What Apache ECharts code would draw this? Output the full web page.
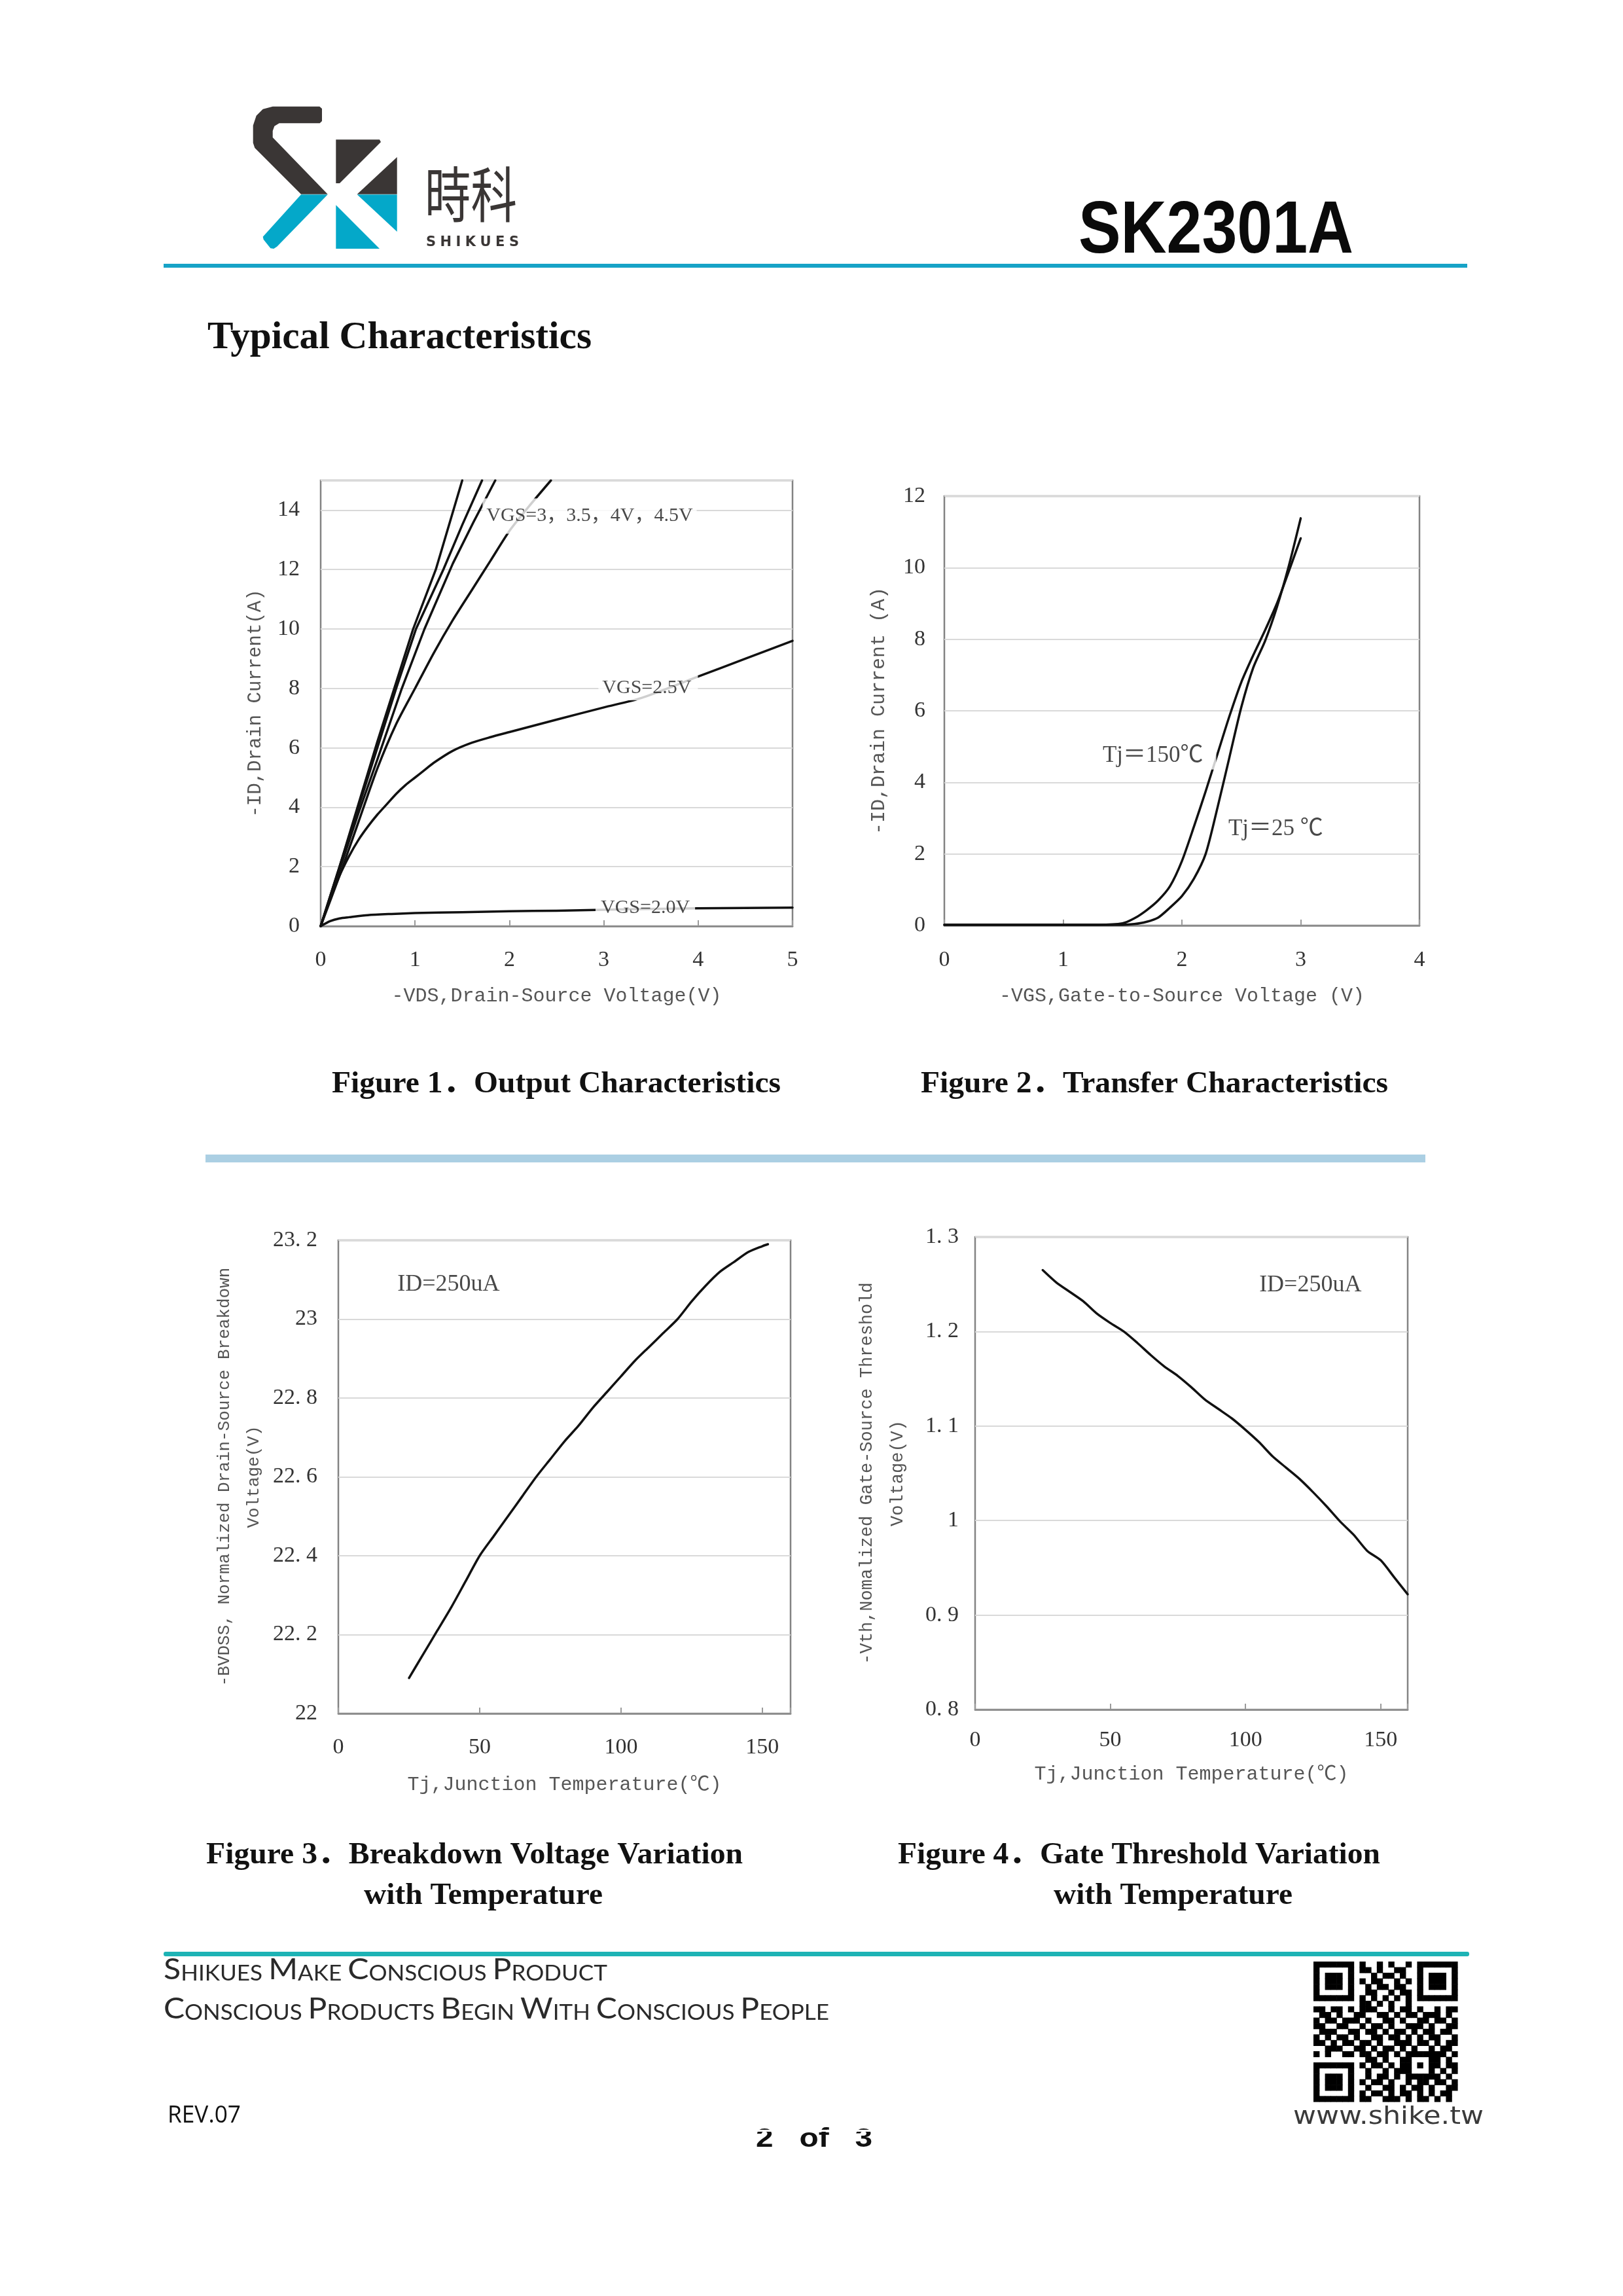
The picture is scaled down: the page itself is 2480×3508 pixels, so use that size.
<!DOCTYPE html>
<html><head><meta charset="utf-8">
<script src="https://cdn.jsdelivr.net/npm/echarts@6/dist/echarts.min.js"></script>
<style>html,body{margin:0;padding:0;background:#fff}#c{width:2480px;height:3508px}</style>
</head><body><div id="c"></div>
<script>
// ---------------- DATA ----------------
// Figure 1: Output characteristics  [-VDS (V), -ID (A)]
const fig1_vgs45 = [[0,0],[0.2,2.0],[0.4,4.1],[0.6,6.2],[0.78,8.0],[0.98,10.0],[1.22,12.0],[1.5,15.0]];
const fig1_vgs40 = [[0,0],[0.2,2.0],[0.4,4.0],[0.6,6.0],[0.8,8.0],[1.01,10.0],[1.3,12.0],[1.5,13.5],[1.71,15.0]];
const fig1_vgs35 = [[0,0],[0.2,1.9],[0.4,3.8],[0.6,5.6],[0.86,8.0],[1.1,10.0],[1.4,12.2],[1.62,13.6],[1.85,15.0]];
const fig1_vgs30 = [[0,0],[0.2,1.7],[0.4,3.5],[0.6,5.3],[0.8,6.8],[1.0,8.0],[1.2,9.2],[1.4,10.3],[1.6,11.3],[1.8,12.3],[2.0,13.3],[2.2,14.1],[2.44,15.0]];
const fig1_vgs25 = [[0,0],[0.1,0.9],[0.2,1.7],[0.3,2.35],[0.4,2.9],[0.5,3.35],[0.6,3.75],[0.7,4.1],[0.8,4.45],[0.9,4.75],[1.0,5.0],[1.1,5.25],[1.2,5.5],[1.4,5.9],[1.6,6.17],[1.8,6.36],[2.0,6.53],[2.5,6.95],[3.0,7.36],[3.4,7.68],[4.0,8.4],[4.5,9.0],[5.0,9.6]];
const fig1_vgs20 = [[0,0],[0.1,0.17],[0.2,0.26],[0.3,0.3],[0.5,0.37],[0.75,0.41],[1.0,0.44],[1.5,0.47],[2.0,0.5],[2.5,0.52],[3.0,0.55],[3.5,0.58],[4.0,0.6],[4.5,0.61],[5.0,0.62]];
const fig1_notes = [
  {text:'VGS=3，3.5，4V，4.5V', x:2.85, y:13.8},
  {text:'VGS=2.5V', x:3.47, y:8.02},
  {text:'VGS=2.0V', x:3.44, y:0.62}
];
// Figure 2: Transfer characteristics [-VGS (V), -ID (A)]
const fig2_tj150 = [[0,0.02],[1.3,0.02],[1.5,0.06],[1.6,0.2],[1.7,0.42],[1.8,0.7],[1.9,1.1],[2.0,1.8],[2.1,2.75],[2.2,3.75],[2.3,4.8],[2.4,5.85],[2.5,6.8],[2.6,7.55],[2.7,8.25],[2.8,9.0],[2.9,9.9],[3.0,10.82]];
const fig2_tj25 = [[0,0.02],[1.5,0.02],[1.6,0.04],[1.7,0.1],[1.8,0.22],[1.9,0.5],[2.0,0.82],[2.1,1.3],[2.2,2.0],[2.3,3.3],[2.4,4.7],[2.5,6.1],[2.6,7.2],[2.7,7.95],[2.8,8.9],[2.9,10.05],[3.0,11.38]];
const fig2_notes = [
  {text:'Tj＝150℃', x:1.80, y:4.75},
  {text:'Tj＝25 ℃', x:2.79, y:2.69}
];
// Figure 3: Breakdown voltage vs temperature
const fig3_tj = [25,30,35,40,45,50,55,60,65,70,75,80,85,90,95,100,105,110,115,120,125,130,135,140,145,150,152];
const fig3_bv = [22.09,22.15,22.21,22.27,22.335,22.40,22.45,22.50,22.55,22.60,22.645,22.69,22.73,22.775,22.815,22.855,22.895,22.93,22.965,23.0,23.045,23.085,23.12,23.145,23.17,23.185,23.19];
const fig3_notes = [{text:'ID=250uA', x:39, y:23.088}];
// Figure 4: Gate threshold vs temperature
const fig4_tj = [25,30,35,40,45,50,55,60,65,70,75,80,85,90,95,100,105,110,115,120,125,130,135,140,145,150,155,160];
const fig4_vth = [1.265,1.252,1.242,1.232,1.219,1.209,1.200,1.188,1.175,1.163,1.153,1.141,1.128,1.118,1.108,1.096,1.083,1.068,1.056,1.044,1.030,1.015,0.999,0.985,0.968,0.958,0.940,0.922];
const fig4_notes = [{text:'ID=250uA', x:124, y:1.249}];

// ---------------- STYLE / LAYOUT ----------------
const SERIF = "'Liberation Serif','Times New Roman','Noto Sans CJK SC',serif";
const MONO = "'Liberation Mono','Noto Sans CJK SC',monospace";
const INK = '#111';
const mc = document.createElement('canvas').getContext('2d');
function tw(t, f){ mc.font = f; return mc.measureText(t).width; }
function fitText(text, font, x, y, w, fill, va){
  return {type:'text', x:x, y:y, scaleX: w / tw(text, font), z:100,
    style:{text:text, x:0, y:0, font:font, fill:fill||INK, align:'left', verticalAlign:va||'middle', textAlign:'left', textVerticalAlign:va||'middle'}};
}
function spaced(str, x0, total, y, font, fill){
  const ch = str.split(''); const ws = ch.map(c=>tw(c,font));
  const gap = (total - ws.reduce((a,b)=>a+b,0))/(ch.length-1);
  let x = x0; const out=[];
  ch.forEach((c,i)=>{ out.push({type:'text', x:x, y:y, z:100, style:{text:c, x:0,y:0, font:font, fill:fill, align:'left', verticalAlign:'middle'}}); x += ws[i]+gap; });
  return out;
}
function smallCaps(str, x, top, target, big, small, fam, fill){
  const fb = big+'px '+fam, fs = small+'px '+fam;
  let rich='', w=0;
  str.split(' ').forEach((wd,i)=>{
    if(i>0){ rich += '{s| }'; w += tw(' ',fs); }
    const a = wd[0], b = wd.slice(1).toUpperCase();
    rich += '{b|'+a+'}{s|'+b+'}'; w += tw(a,fb)+tw(b,fs);
  });
  return {type:'text', x:x, y:top, scaleX: target/w, z:100,
    style:{text:rich, x:0, y:0, align:'left', verticalAlign:'top', fill:fill,
      rich:{ b:{fontSize:big, fontFamily:fam, fill:fill, verticalAlign:'bottom'},
             s:{fontSize:small, fontFamily:fam, fill:fill, verticalAlign:'bottom'} }}};
}

const grids = [
  {left:490, top:734, width:721, height:681},
  {left:1443, top:758, width:726, height:656},
  {left:517, top:1895, width:691, height:723},
  {left:1490, top:1890, width:661, height:722}
].map(g=>Object.assign({show:true, borderColor:'#838383', borderWidth:2.5, backgroundColor:'#fff', containLabel:false, outerBoundsMode:'none'}, g));

const dotFmt = v => { const s = String(+(+v).toFixed(1)); return s.replace('.', '. '); };
function xAx(gi, min, max, interval, name, gap, margin, hideVal){
  return {type:'value', gridIndex:gi, min:min, max:max, interval:interval, name:name, nameLocation:'middle', nameGap:gap,
    nameTextStyle:{fontFamily:MONO, fontSize:30, color:'#555'},
    axisLine:{show:true, lineStyle:{color:'#838383', width:2.5}},
    axisTick:{show:true, inside:true, length:9, lineStyle:{color:'#9a9a9a', width:2}},
    splitLine:{show:false},
    axisLabel:{margin:margin, fontFamily:SERIF, fontSize:34, color:'#333', interval:0,
      formatter: v => (hideVal!==undefined && Math.abs(v-hideVal)<1e-9) ? '' : String(+(+v).toFixed(2))}};
}
function yAx(gi, min, max, interval, name, gap, margin, nameStyle, fmt, hideVal){
  return {type:'value', gridIndex:gi, min:min, max:max, interval:interval, name:name, nameLocation:'middle', nameGap:gap, nameRotate:90,
    nameTextStyle:nameStyle,
    axisLine:{show:false}, axisTick:{show:false},
    splitLine:{show:true, lineStyle:{color:'#d9d9d9', width:2}},
    axisLabel:{margin:margin, fontFamily:SERIF, fontSize:34, color:'#333', interval:0,
      formatter: v => (hideVal!==undefined && Math.abs(v-hideVal)<1e-9) ? '' : fmt(v)}};
}
const plainFmt = v => String(+(+v).toFixed(2));

function lineS(gi, data, sm){
  return {type:'line', xAxisIndex:gi, yAxisIndex:gi, data:data, showSymbol:false, symbol:'none', smooth:sm,
    clip:true, z:2, lineStyle:{color:'#111', width:3.5, join:'round', cap:'round'}, silent:true};
}
function notesS(gi, notes, fontSize, pads){
  return {type:'scatter', xAxisIndex:gi, yAxisIndex:gi, symbolSize:1, z:5, silent:true,
    itemStyle:{color:'rgba(0,0,0,0)'},
    data: notes.map((n,i)=>({name:n.text, value:[n.x,n.y], label:{padding:pads[i]}})),
    label:{show:true, position:'inside', formatter:'{b}', color:'#1a1a1a', fontFamily:SERIF, fontSize:fontSize, backgroundColor:'#fff'}};
}

// ---------------- GRAPHIC (page furniture) ----------------
const DARK = '#3a3635', BLUE = '#04a8c9';
const gfx = [];
gfx.push({type:'polygon', z:100, shape:{points:[[416.7,162.7],[488.3,162.7],[492,166],[492,185],[488.7,188.3],[426.7,188.3],[419.3,192.7],[416.7,200],[416.7,210],[500.7,296.7],[460,296.7],[389.3,226],[386.7,218.3],[386.7,191.7],[391.7,176.7],[401.7,166.7]]}, style:{fill:DARK}});
gfx.push({type:'polygon', z:100, shape:{points:[[460,297.3],[500.7,297.3],[423.3,376.7],[418.3,380],[413.3,379.3],[402.7,366],[401.7,361.7]]}, style:{fill:BLUE}});
gfx.push({type:'polygon', z:100, shape:{points:[[513.3,213.3],[580,213.3],[582,217],[519,280],[513.3,280]]}, style:{fill:DARK}});
gfx.push({type:'polygon', z:100, shape:{points:[[606.7,240],[606.7,296.7],[545.7,296.7]]}, style:{fill:DARK}});
gfx.push({type:'polygon', z:100, shape:{points:[[545.7,297.3],[606.7,297.3],[606.7,354]]}, style:{fill:BLUE}});
gfx.push({type:'polygon', z:100, shape:{points:[[513.3,313.3],[513.3,380],[580,380]]}, style:{fill:BLUE}});
gfx.push(fitText('時科', "92px 'Noto Sans CJK TC','Noto Sans CJK SC'", 649, 297, 141, DARK));
spaced('SHIKUES', 651, 142, 371, "bold 21px 'DejaVu Sans'", DARK).forEach(e=>gfx.push(e));
gfx.push(fitText('SK2301A', "bold 113px 'Liberation Sans'", 1648, 355, 420, '#0a0a0a'));
gfx.push({type:'rect', z:100, shape:{x:250, y:403, width:1992, height:6}, style:{fill:'#17a3c7'}});
gfx.push(fitText('Typical Characteristics', "bold 60px "+SERIF, 317, 516, 587, INK));
// figure captions
const capFont = "bold 47px "+SERIF;
gfx.push(fitText('Figure 1．Output Characteristics', capFont, 507, 1657, 686, INK));
gfx.push(fitText('Figure 2．Transfer Characteristics', capFont, 1407, 1657, 714, INK));
gfx.push(fitText('Figure 3．Breakdown Voltage Variation', capFont, 315, 2835, 820, INK));
gfx.push(fitText('with Temperature', capFont, 556, 2897, 365, INK));
gfx.push(fitText('Figure 4．Gate Threshold Variation', capFont, 1372, 2835, 737, INK));
gfx.push(fitText('with Temperature', capFont, 1610, 2897, 365, INK));
// separator band
gfx.push({type:'rect', z:100, shape:{x:314, y:1764, width:1864, height:12}, style:{fill:'#abcfe3'}});
// footer
gfx.push({type:'rect', z:100, shape:{x:250, y:2982, width:1995, height:7, r:3}, style:{fill:'#1db3b5'}});
gfx.push(smallCaps('Shikues Make Conscious Product', 250, 2988, 678, 44, 32, "Lato,'Open Sans',sans-serif", '#2a2a2a'));
gfx.push(smallCaps('Conscious Products Begin With Conscious People', 250, 3048, 1017, 44, 32, "Lato,'Open Sans',sans-serif", '#2a2a2a'));
gfx.push(fitText('REV.07', "36px 'Open Sans'", 256, 3233, 112, '#111'));
gfx.push(fitText('2   of   3', "bold 40px 'Liberation Sans'", 1155, 3269, 178, '#111'));
gfx.push({type:'rect', z:101, shape:{x:1140, y:3254, width:220, height:3}, style:{fill:'#fff'}});
gfx.push(fitText('www.shike.tw', "38px 'DejaVu Sans'", 1976, 3235, 291, '#3a3a3a'));
// QR code (decorative module pattern)
const qrBase = [
 "0100110110010100110101101","1011001011010011010110010","0110101100101101001011011","1101010110110010110100101",
 "0011011001011011001101110","1010110101100101110010011","0101101010011010101101010","1100100111010100100110101",
 "1101101011100101101001011","0110100110011010110111010","1011011101001101001101101","1100110010110100111010011",
 "0111001101101011010110110","1010110100110110101011001","1101011011010011101101011","0011100110101101010010110",
 "1010011011011010111111101","0110101101101001101011010","1001011010110101101001011","0110110101001011011010101",
 "1011001101011010110011010","0101110010110100101101101","1100101101001101011010011","0011010110110101101010110",
 "1010101011001110101101010"];
const qm = qrBase.map(r=>r.split('').map(Number));
[[0,0],[0,18],[18,0]].forEach(([r0,c0])=>{
  for(let dr=-1; dr<=7; dr++) for(let dc=-1; dc<=7; dc++){
    const r=r0+dr, c=c0+dc; if(r<0||c<0||r>24||c>24) continue;
    const inF = dr>=0&&dr<=6&&dc>=0&&dc<=6;
    qm[r][c] = (inF && (dr===0||dr===6||dc===0||dc===6||(dr>=2&&dr<=4&&dc>=2&&dc<=4))) ? 1 : 0;
  }
});
for(let i=8;i<=16;i++){ qm[6][i] = i%2===0?1:0; qm[i][6] = i%2===0?1:0; }
for(let dr=-2; dr<=2; dr++) for(let dc=-2; dc<=2; dc++){ qm[18+dr][18+dc] = (Math.abs(dr)===2||Math.abs(dc)===2||(dr===0&&dc===0))?1:0; }
const qx=2007, qy=2997, qsx=8.8, qsy=8.56;
qm.forEach((row,r)=>row.forEach((v,c)=>{ if(v) gfx.push({type:'rect', z:100, shape:{x:qx+c*qsx, y:qy+r*qsy, width:qsx+0.6, height:qsy+0.6}, style:{fill:'#000'}}); }));

// ---------------- OPTION ----------------
const chart = echarts.init(document.getElementById('c'), null, {renderer:'canvas', width:2480, height:3508});
const option = {
  animation:false,
  backgroundColor:'#fff',
  grid: grids,
  xAxis:[
    xAx(0, 0, 5, 1, '-VDS,Drain-Source Voltage(V)', 92, 35),
    xAx(1, 0, 4, 1, '-VGS,Gate-to-Source Voltage (V)', 93, 36),
    xAx(2, 0, 160, 50, 'Tj,Junction Temperature(℃)', 94, 35, 160),
    xAx(3, 0, 160, 50, 'Tj,Junction Temperature(℃)', 84, 30, 160)
  ],
  yAxis:[
    yAx(0, 0, 15, 2, '-ID,Drain Current(A)', 85, 32, {fontFamily:MONO, fontSize:29, color:'#555'}, plainFmt, 15),
    yAx(1, 0, 12, 2, '-ID,Drain Current (A)', 85, 29, {fontFamily:MONO, fontSize:30, color:'#555'}, plainFmt),
    yAx(2, 22, 23.2, 0.2, '-BVDSS, Normalized Drain-Source Breakdown\nVoltage(V)', 106, 32, {fontFamily:MONO, fontSize:26, lineHeight:45, color:'#555'}, dotFmt),
    yAx(3, 0.8, 1.3, 0.1, '-Vth,Nomalized Gate-Source Threshold\nVoltage(V)', 95, 25, {fontFamily:MONO, fontSize:27, lineHeight:47, color:'#555'}, dotFmt)
  ],
  series:[
    lineS(0, fig1_vgs45, false), lineS(0, fig1_vgs40, false), lineS(0, fig1_vgs35, false), lineS(0, fig1_vgs30, 0.25),
    lineS(0, fig1_vgs25, 0.25), lineS(0, fig1_vgs20, 0.25),
    notesS(0, fig1_notes, 30, [[20,6,4,6],[4,10,4,6],[3,8,3,8]]),
    lineS(1, fig2_tj150, 0.25), lineS(1, fig2_tj25, 0.25),
    notesS(1, fig2_notes, 35, [[4,20,4,4],[4,4,4,4]]),
    lineS(2, fig3_tj.map((t,i)=>[t, fig3_bv[i]]), 0.25),
    notesS(2, fig3_notes, 36, [[2,2,2,2]]),
    lineS(3, fig4_tj.map((t,i)=>[t, fig4_vth[i]]), 0.25),
    notesS(3, fig4_notes, 36, [[2,2,2,2]])
  ],
  graphic:{elements:gfx}
};
chart.setOption(option);
</script>
</body></html>
